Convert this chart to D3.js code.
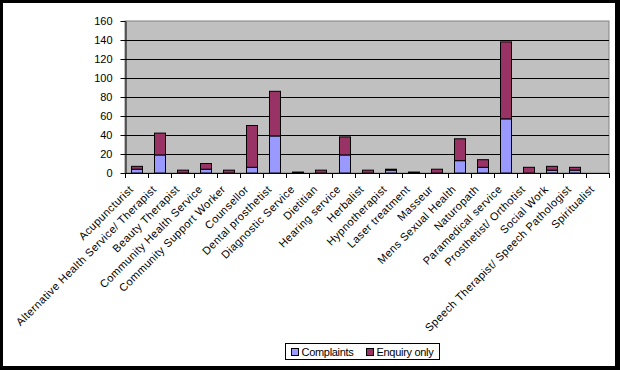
<!DOCTYPE html>
<html>
<head>
<meta charset="utf-8">
<script src="https://cdn.jsdelivr.net/npm/d3@7"></script>
<style>
  body { margin: 0; background: #fff; }
  text { font-family: "Liberation Sans", Arial, sans-serif; fill: #000; }
</style>
</head>
<body>
<div id="chart"></div>
<script>
// categories along the x axis
const categories = [
    'Acupuncturist',
    'Alternative Health Service/ Therapist',
    'Beauty Therapist',
    'Community Health Service',
    'Community Support Worker',
    'Counsellor',
    'Dental prosthetist',
    'Diagnostic Service',
    'Dietitian',
    'Hearing service',
    'Herbalist',
    'Hypnotherapist',
    'Laser treatment',
    'Masseur',
    'Mens Sexual Health',
    'Naturopath',
    'Paramedical service',
    'Prosthetist/ Orthotist',
    'Social Work',
    'Speech Therapist/ Speech Pathologist',
    'Spiritualist'
];

// series values
const complaints = [4, 19, 0, 4, 0, 6, 39, 0, 0, 19, 0, 3, 0, 0, 13, 6, 57, 0, 3, 3, 0];
const enquiryOnly = [3, 23, 3, 6, 3, 44, 47, 1, 3, 19, 3, 1, 1, 4, 23, 8, 81, 6, 4, 3, 0];

const seriesNames = ['Complaints', 'Enquiry only'];
const seriesColors = ['#9999FF', '#993366'];
const yTicks = [0, 20, 40, 60, 80, 100, 120, 140, 160];

const width = 620;
const height = 370;
const plot = { left: 125, top: 21, right: 609, bottom: 173 };

const svg = d3.select('#chart')
    .append('svg')
    .attr('width', width)
    .attr('height', height);

// outer frame with shadow edge
svg.append('rect')
    .attr('width', width)
    .attr('height', height)
    .attr('fill', '#000');
svg.append('rect')
    .attr('x', 3)
    .attr('y', 3)
    .attr('width', 612)
    .attr('height', 363)
    .attr('fill', '#fff');

const x = d3.scaleBand()
    .domain(categories)
    .range([plot.left, plot.right])
    .paddingInner(0.53)
    .paddingOuter(0.265);

const y = d3.scaleLinear()
    .domain([0, 160])
    .range([plot.bottom, plot.top]);

// plot area
svg.append('rect')
    .attr('x', plot.left)
    .attr('y', plot.top)
    .attr('width', plot.right - plot.left)
    .attr('height', plot.bottom - plot.top)
    .attr('fill', '#C0C0C0')
    .attr('stroke', '#808080')
    .attr('stroke-width', 1);

// gridlines
svg.append('g')
    .selectAll('line')
    .data(yTicks.filter(d => d > 0 && d < 160))
    .enter()
    .append('line')
    .attr('x1', plot.left)
    .attr('x2', plot.right)
    .attr('y1', d => Math.round(y(d)) + 0.5)
    .attr('y2', d => Math.round(y(d)) + 0.5)
    .attr('stroke', '#000');

// stacked bars
const rows = categories.map((c, i) => ({ cat: c, Complaints: complaints[i], 'Enquiry only': enquiryOnly[i] }));
const stacked = d3.stack().keys(seriesNames)(rows);

svg.append('g')
    .selectAll('g')
    .data(stacked)
    .enter()
    .append('g')
    .attr('fill', (d, i) => seriesColors[i])
    .selectAll('rect')
    .data(d => d.filter(p => p[1] - p[0] > 0))
    .enter()
    .append('rect')
    .attr('x', d => Math.round(x(d.data.cat)) + 0.5)
    .attr('y', d => y(d[1]))
    .attr('width', Math.round(x.bandwidth()))
    .attr('height', d => y(d[0]) - y(d[1]))
    .attr('stroke', '#000')
    .attr('stroke-width', 1);

// y axis
const yAxis = svg.append('g')
    .attr('transform', `translate(${plot.left + 0.5},0)`)
    .call(d3.axisLeft(y).tickValues(yTicks).tickSize(5).tickSizeOuter(0).tickPadding(8));
yAxis.select('.domain').attr('stroke', '#000');
yAxis.selectAll('text')
    .style('font-size', '11px')
    .style('font-family', '"Liberation Sans", Arial, sans-serif');

// x axis: ticks at category boundaries
const bounds = d3.range(categories.length + 1).map(i => plot.left + i * x.step());
svg.append('line')
    .attr('x1', plot.left)
    .attr('x2', plot.right)
    .attr('y1', plot.bottom + 0.5)
    .attr('y2', plot.bottom + 0.5)
    .attr('stroke', '#000');
svg.append('g')
    .selectAll('line')
    .data(bounds)
    .enter()
    .append('line')
    .attr('x1', d => Math.round(d) + 0.5)
    .attr('x2', d => Math.round(d) + 0.5)
    .attr('y1', plot.bottom)
    .attr('y2', plot.bottom + 5)
    .attr('stroke', '#000');

// rotated category labels
svg.append('g')
    .selectAll('text')
    .data(categories)
    .enter()
    .append('text')
    .attr('transform', d => `translate(${x(d) + x.bandwidth() / 2 - 2.5},190) rotate(-45)`)
    .attr('text-anchor', 'end')
    .style('font-size', '11px')
    .style('letter-spacing', '0.4px')
    .text(d => d);

// legend
const legend = svg.append('g').attr('transform', 'translate(285.5,343.5)');
legend.append('rect')
    .attr('width', 154)
    .attr('height', 16)
    .attr('fill', '#fff')
    .attr('stroke', '#000');
const legendX = [6, 81];
const items = legend.selectAll('g.item')
    .data(seriesNames)
    .enter()
    .append('g')
    .attr('class', 'item')
    .attr('transform', (d, i) => `translate(${legendX[i]},0)`);
items.append('rect')
    .attr('y', 5)
    .attr('width', 7)
    .attr('height', 7)
    .attr('fill', (d, i) => seriesColors[i])
    .attr('stroke', '#000');
items.append('text')
    .attr('x', 10)
    .attr('y', 12)
    .style('font-size', '11px')
    .style('letter-spacing', '-0.3px')
    .text(d => d);
</script>
</body>
</html>
